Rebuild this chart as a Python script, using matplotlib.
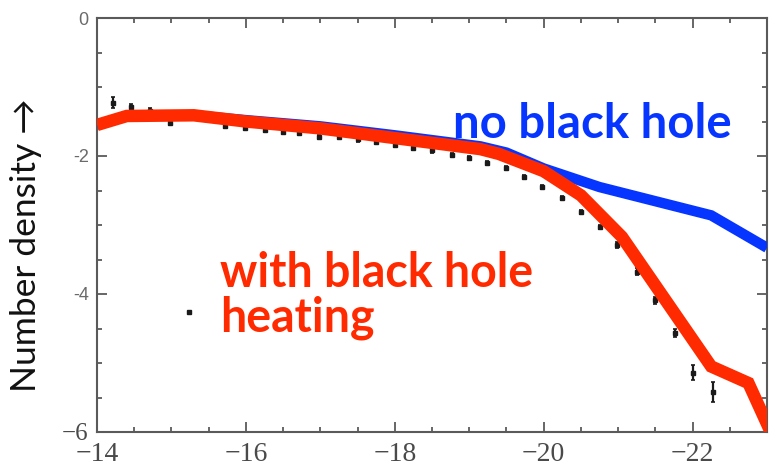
import matplotlib
matplotlib.use("Agg")
import matplotlib.pyplot as plt
from matplotlib.ticker import MultipleLocator

# Luminosity function: absolute magnitude vs log number density
no_bh_mag = [-14.0, -14.4, -15.3, -16.0, -17.0, -18.0, -19.15, -19.5, -20.0, -20.75, -22.25, -23.0]
no_bh_den = [-1.55, -1.42, -1.41, -1.48, -1.57, -1.70, -1.86, -1.95, -2.18, -2.45, -2.86, -3.33]

bh_mag = [-14.0, -14.4, -15.3, -16.0, -17.0, -18.0, -19.15, -19.4, -20.0, -20.5, -21.05, -22.25, -22.75, -23.05]
bh_den = [-1.55, -1.42, -1.41, -1.50, -1.60, -1.74, -1.90, -1.97, -2.22, -2.57, -3.17, -5.05, -5.29, -6.0]

obs_mag = [-14.22, -14.46, -14.71, -14.98, -15.72, -15.99, -16.25, -16.5, -16.71, -16.98,
           -17.25, -17.5, -17.75, -18.0, -18.25, -18.5, -18.77, -19.0, -19.24, -19.5,
           -19.74, -19.98, -20.25, -20.5, -20.75, -20.99, -21.25, -21.49, -21.76, -22.0, -22.27]
obs_den = [-1.23, -1.29, -1.35, -1.52, -1.57, -1.60, -1.62, -1.65, -1.67, -1.72,
           -1.73, -1.76, -1.80, -1.84, -1.88, -1.92, -1.99, -2.03, -2.10, -2.18,
           -2.30, -2.45, -2.61, -2.81, -3.03, -3.29, -3.68, -4.09, -4.57, -5.14, -5.42]
obs_err = [0.08, 0.05, 0.04, 0.03, 0.03, 0.03, 0.03, 0.03, 0.03, 0.03,
           0.03, 0.03, 0.03, 0.03, 0.03, 0.03, 0.03, 0.03, 0.03, 0.03,
           0.03, 0.03, 0.03, 0.03, 0.03, 0.04, 0.05, 0.05, 0.06, 0.11, 0.15]

stray_mag = [-15.23]
stray_den = [-4.26]

x_ticks = [-14, -16, -18, -20, -22]
x_labels = ["\u221214", "\u221216", "\u221218", "\u221220", "\u221222"]
y_ticks = [0, -2, -4, -6]
y_labels = ["0", "-2", "-4", "\u22126"]

BLUE = "#0535ff"
RED = "#ff2a00"
GREY = "#5a5a5a"

fig = plt.figure(figsize=(7.69, 4.68), dpi=100)
ax = fig.add_axes([97 / 769, 36 / 468, 670 / 769, 414 / 468])

ax.errorbar(obs_mag, obs_den, yerr=obs_err, fmt="s", ms=3.2, color="#1a1a1a",
            ecolor="#1a1a1a", elinewidth=1.6, capsize=1.5, capthick=1.2, zorder=2)
ax.plot(stray_mag, stray_den, "s", ms=2.6, color="#1a1a1a", zorder=2)

ax.plot(no_bh_mag, no_bh_den, color=BLUE, lw=7.5, solid_joinstyle="miter",
        solid_capstyle="butt", zorder=3)
ax.plot(bh_mag, bh_den, color=RED, lw=9.0, solid_joinstyle="miter",
        solid_capstyle="butt", zorder=4)

ax.set_xlim(-14, -23)
ax.set_ylim(-6, 0)

ax.set_xticks(x_ticks, x_labels)
ax.set_yticks(y_ticks, y_labels)
ax.xaxis.set_minor_locator(MultipleLocator(0.5))
ax.yaxis.set_minor_locator(MultipleLocator(0.5))
ax.tick_params(which="both", direction="in", top=True, right=True, color=GREY, width=1.3)
ax.tick_params(which="major", length=7)
ax.tick_params(which="minor", length=3.5)
ax.tick_params(axis="x", pad=7, labelsize=20, labelcolor="#4a4a4a")
ax.tick_params(axis="y", pad=6, labelcolor="#6a6a6a")
for lab in ax.get_xticklabels():
    lab.set_fontfamily("Liberation Serif")
for lab in ax.get_yticklabels():
    if lab.get_text() == "\u22126":
        lab.set_fontfamily("Liberation Serif")
        lab.set_fontsize(18)
        lab.set_color("#4a4a4a")
    else:
        lab.set_fontfamily("Liberation Sans")
        lab.set_fontsize(13)
for sp in ax.spines.values():
    sp.set_color(GREY)
    sp.set_linewidth(1.5)

ax.text(-18.78, -1.74, "no black hole", color=BLUE, fontsize=34, fontweight="bold",
        family="Lato", ha="left", va="baseline", zorder=5)
ax.text(-15.65, -3.90, "with black hole", color=RED, fontsize=33.5, fontweight="bold",
        family="Lato", ha="left", va="baseline", zorder=5)
ax.text(-15.65, -4.55, "heating", color=RED, fontsize=33.5, fontweight="bold",
        family="Lato", ha="left", va="baseline", zorder=5)

fig.text(0.034, 0.476, "Number density \u2192", rotation=90, ha="center", va="center",
         fontsize=25.5, family=["Lato", "DejaVu Sans"], color="#111111")

fig.savefig("out.png", dpi=100)
